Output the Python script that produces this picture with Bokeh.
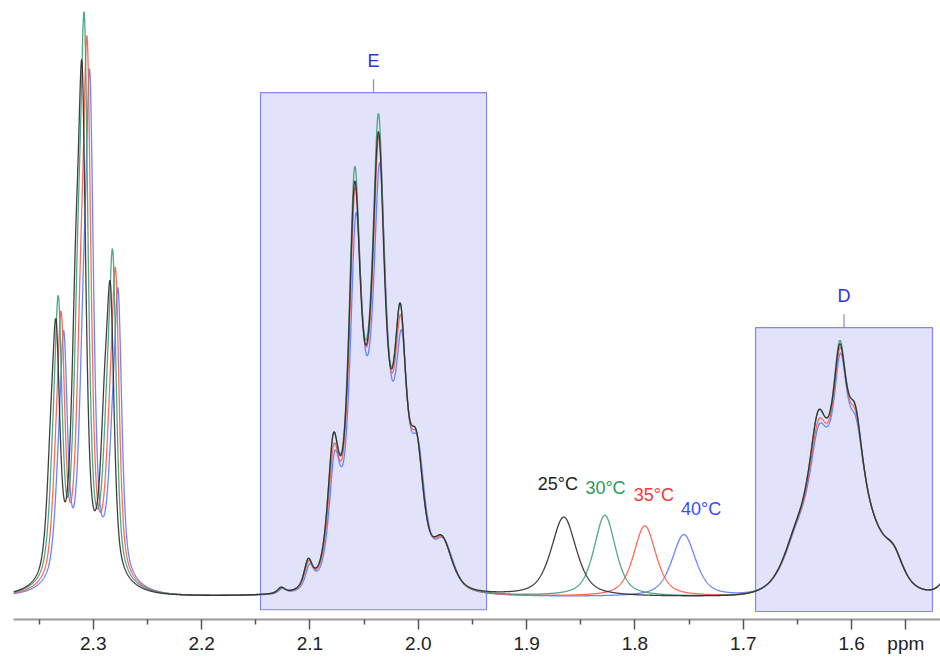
import numpy as np
from bokeh.plotting import figure
from bokeh.models import Range1d, FixedTicker, CustomJSTickFormatter, ColumnDataSource
from bokeh.embed import file_html
from bokeh.resources import INLINE
from bokeh.core.properties import value

# ---------------- data ----------------
temperatures = ["25°C", "30°C", "35°C", "40°C"]
trace_colors = ["#2b2b2b", "#3d9f78", "#ff5a47", "#5a7aff"]
label_colors = ["#1e1e1e", "#2a9a5e", "#ff3535", "#3a4cff"]

# multiplet near 2.31 ppm (moves upfield with temperature)
m1_ppm = [2.3394, 2.3342, 2.3163, 2.3102, 2.2896, 2.2840]
m1_hwhm = [0.0045, 0.0040, 0.0045, 0.0041, 0.0045, 0.0040]
m1_shift = [0.0, -0.0021, -0.0047, -0.0071]
m1_height_25 = [31.7, 47.6, 62.0, 91.5, 39.1, 53.7]
m1_height_30 = [30.3, 51.7, 64.0, 99.8, 38.1, 59.4]
m1_height_35 = [28.9, 49.0, 60.0, 95.8, 36.0, 56.3]
m1_height_40 = [26.9, 45.7, 56.0, 90.2, 33.6, 52.8]

# multiplet E (2.13 - 1.97 ppm)
e_ppm = [2.1265, 2.1016, 2.0785, 2.0588, 2.0367, 2.0164, 2.0016, 1.9779]
e_hwhm = [0.0040, 0.0045, 0.0058, 0.0058, 0.0058, 0.0058, 0.0075, 0.0110]
e_shift = [0.0, 0.0, -0.0004, -0.0012]
e_height_25 = [1.8, 6.7, 28.1, 71.3, 79.9, 50.4, 28.5, 10.6]
e_height_30 = [1.7, 6.7, 28.1, 73.8, 83.0, 50.4, 28.5, 10.6]
e_height_35 = [1.7, 6.3, 26.2, 70.3, 79.2, 48.4, 28.0, 10.4]
e_height_40 = [1.6, 5.8, 25.0, 65.9, 74.6, 45.8, 27.5, 10.2]

# multiplet D (1.68 - 1.54 ppm)
d_ppm = [1.6520, 1.6312, 1.6109, 1.5965, 1.5611]
d_hwhm = [0.0130, 0.0085, 0.0065, 0.0072, 0.0100]
d_shift = [0.0, 0.0, -0.0003, -0.0006]
d_height_25 = [12.7, 31.9, 43.5, 32.9, 9.0]
d_height_30 = [12.7, 31.9, 44.1, 32.9, 9.0]
d_height_35 = [12.6, 30.4, 42.9, 31.9, 8.9]
d_height_40 = [12.5, 29.5, 41.9, 30.8, 8.8]

# temperature-dependent singlet
s_ppm = [1.8657, 1.8278, 1.7909, 1.7549]
s_height = [13.8, 14.1, 12.3, 10.8]
s_hwhm = [0.0138, 0.0118, 0.0123, 0.0130]

# signal just beyond the right edge
tail_ppm = [1.505]
tail_height = [6.0]
tail_hwhm = [0.010]

# broad underlying humps: (m1, E, D)
base_ppm = [2.3085, 2.0400, 1.6110]
base_sigma = [0.026, 0.022, 0.0280]
base_height = [3.5, 28.0, 22.0]

# lorentzian fraction of the line shape
lorentz_fraction = 0.6

# highlighted regions
region_names = ["E", "D"]
region_left = [2.1456, 1.6887]
region_right = [1.9370, 1.5254]
region_top = [86.6, 46.3]
region_bottom = [-2.1, -2.4]

# temperature label anchors
temp_label_ppm = [1.8712, 1.8272, 1.7826, 1.7389]
temp_label_y = [19.5, 18.8, 17.5, 15.2]

major_ticks = [2.3, 2.2, 2.1, 2.0, 1.9, 1.8, 1.7, 1.6, 1.55]
minor_ticks = [2.35, 2.25, 2.15, 2.05, 1.95, 1.85, 1.75, 1.65]

X_START, X_END = 2.3736, 1.5180

m1_heights = [m1_height_25, m1_height_30, m1_height_35, m1_height_40]
e_heights = [e_height_25, e_height_30, e_height_35, e_height_40]
d_heights = [d_height_25, d_height_30, d_height_35, d_height_40]


def line_shape(x, c, w):
    d = (x - c) / w
    return lorentz_fraction / (1.0 + d ** 2) + (1 - lorentz_fraction) * np.exp(-np.log(2) * d ** 2)


def spectrum(k, x):
    cen = ([c + m1_shift[k] for c in m1_ppm] + [c + e_shift[k] for c in e_ppm]
           + [c + d_shift[k] for c in d_ppm] + [s_ppm[k]] + tail_ppm)
    wid = m1_hwhm + e_hwhm + d_hwhm + [s_hwhm[k]] + tail_hwhm
    tgt = m1_heights[k] + e_heights[k] + d_heights[k] + [s_height[k]] + tail_height
    cen, wid, tgt = np.array(cen), np.array(wid), np.array(tgt)
    bcen = np.array(base_ppm) + np.array([m1_shift[k], e_shift[k], d_shift[k]])

    def base(z):
        z = np.asarray(z)[:, None]
        return (np.array(base_height) * np.exp(-0.5 * ((z - bcen) / np.array(base_sigma)) ** 2)).sum(axis=1)

    M = line_shape(cen[:, None], cen[None, :], wid[None, :])
    amp = np.linalg.solve(M, tgt - base(cen))
    y = base(x) + (amp[None, :] * line_shape(x[:, None], cen[None, :], wid[None, :])).sum(axis=1)
    return y


x = np.linspace(X_START, X_END, 4000)

p = figure(width=940, height=657, x_range=Range1d(X_START, X_END), y_range=Range1d(-3.77, 102.4),
           output_backend="svg", toolbar_location=None, y_axis_location=None,
           min_border_left=13, min_border_right=0, min_border_top=0, min_border_bottom=38)
p.grid.visible = False
p.outline_line_color = None
p.background_fill_color = "white"
p.border_fill_color = "white"

# regions
rsrc = ColumnDataSource(dict(left=region_left, right=region_right, top=region_top, bottom=region_bottom,
                             name=region_names,
                             mid=[(a + b) / 2 for a, b in zip(region_left, region_right)],
                             tick_top=[t + 2.3 for t in region_top],
                             label_y=[t + 5.4 for t in region_top]))
p.quad(left="left", right="right", top="top", bottom="bottom", source=rsrc,
       fill_color="#e2e2fb", line_color="#8484f2", line_width=1.2)
p.segment(x0="mid", x1="mid", y0="top", y1="tick_top", source=rsrc, line_color="#8484f2", line_width=1.2)
p.text(x="mid", y="label_y", text="name", source=rsrc, text_font=value("Liberation Sans"),
       text_font_size="18px", text_color="#2f2fe8", text_align="center", text_baseline="middle")

# spectra
for k in [3, 2, 1, 0]:
    p.line(x, spectrum(k, x), line_color=trace_colors[k], line_width=1.3, line_alpha=0.9)

# temperature labels
tsrc = ColumnDataSource(dict(x=temp_label_ppm, y=temp_label_y, text=temperatures, color=label_colors))
p.text(x="x", y="y", text="text", text_color="color", source=tsrc, text_font=value("Liberation Sans"),
       text_font_size="18px", text_align="center", text_baseline="middle")

ax = p.xaxis[0]
ax.ticker = FixedTicker(ticks=major_ticks, minor_ticks=minor_ticks)
ax.formatter = CustomJSTickFormatter(code="return Math.abs(tick - 1.55) < 1e-6 ? 'ppm' : tick.toFixed(1);")
ax.axis_line_color = "#9a9a9a"
ax.axis_line_width = 2
ax.major_tick_in = 0
ax.major_tick_out = 10
ax.minor_tick_in = 0
ax.minor_tick_out = 5
ax.major_tick_line_color = "#555555"
ax.minor_tick_line_color = "#555555"
ax.major_tick_line_width = 1.5
ax.minor_tick_line_width = 1.5
ax.major_label_text_font = "Liberation Sans"
ax.major_label_text_font_size = "19px"
ax.major_label_text_color = "#222222"
ax.major_label_standoff = 3

open("out.html", "w").write(file_html(p, INLINE))
